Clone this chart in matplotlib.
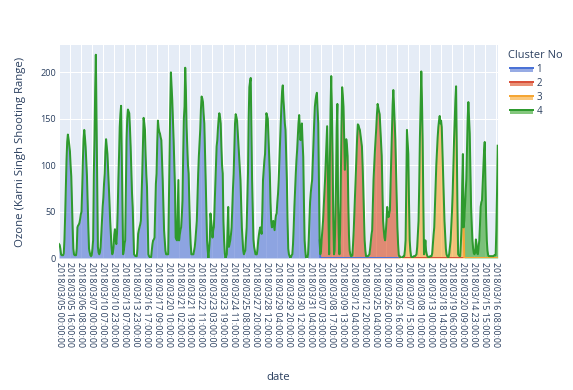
import matplotlib
matplotlib.use("Agg")
import matplotlib.pyplot as plt
from matplotlib.patches import Rectangle
from matplotlib.lines import Line2D
import numpy as np

W, H, DPI = 573, 390, 100

cluster_names = ["1", "2", "3", "4"]
line_colors = ["#4a72d6", "#d9503a", "#f5a634", "#2e9a2e"]
fill_colors = ["#5274d3", "#db491d", "#f9a427", "#33a327"]
fill_alpha = 0.6

tick_step = 16
tick_labels = [
    "2018/03/05 00:00:00", "2018/03/05 16:00:00", "2018/03/06 08:00:00", "2018/03/07 00:00:00",
    "2018/03/10 07:00:00", "2018/03/10 23:00:00", "2018/03/13 07:00:00", "2018/03/13 23:00:00",
    "2018/03/16 17:00:00", "2018/03/17 09:00:00", "2018/03/20 10:00:00", "2018/03/21 02:00:00",
    "2018/03/21 19:00:00", "2018/03/22 11:00:00", "2018/03/23 03:00:00", "2018/03/23 19:00:00",
    "2018/03/24 11:00:00", "2018/03/25 08:00:00", "2018/03/27 20:00:00", "2018/03/28 12:00:00",
    "2018/03/29 04:00:00", "2018/03/29 20:00:00", "2018/03/30 12:00:00", "2018/03/31 04:00:00",
    "2018/03/07 03:00:00", "2018/03/08 17:00:00", "2018/03/09 13:00:00", "2018/03/12 04:00:00",
    "2018/03/12 20:00:00", "2018/03/25 04:00:00", "2018/03/26 00:00:00", "2018/03/26 16:00:00",
    "2018/03/07 15:00:00", "2018/03/08 10:00:00", "2018/03/13 00:00:00", "2018/03/18 14:00:00",
    "2018/03/19 06:00:00", "2018/03/20 09:00:00", "2018/03/14 23:00:00", "2018/03/15 15:00:00",
    "2018/03/16 08:00:00",
]

ozone_c1 = [
    15, 14, 10, 4, 3, 3, 3, 5, 20, 45, 75, 105, 125, 133, 128, 122, 115, 100, 88, 60,
    33, 10, 4, 3, 3, 3, 10, 33, 35, 36, 38, 42, 47, 50, 75, 105, 128, 138, 130, 120,
    105, 88, 60, 33, 10, 6, 3, 2, 3, 10, 19, 90, 127, 180, 219, 150, 91, 12, 6, 4,
    6, 12, 25, 40, 55, 65, 80, 91, 115, 128, 120, 112, 95, 76, 60, 40, 26, 12, 4, 6,
    12, 25, 31, 20, 15, 26, 50, 84, 110, 141, 155, 164, 110, 55, 4, 8, 15, 19, 70, 127,
    150, 160, 158, 156, 140, 120, 95, 70, 55, 30, 4, 3, 2, 2, 2, 10, 26, 30, 33, 36,
    40, 65, 91, 120, 151, 145, 138, 110, 90, 76, 40, 4, 2, 1, 0, 1, 8, 15, 19, 20,
    22, 50, 80, 91, 125, 148, 140, 136, 134, 130, 127, 105, 84, 55, 30, 19, 8, 4, 4, 4,
    4, 60, 110, 160, 200, 185, 170, 150, 127, 100, 76, 22, 20, 19, 50, 84, 19, 25, 30, 33,
    45, 62, 110, 150, 163, 205, 180, 141, 120, 100, 91, 60, 33, 15, 4, 4, 4, 4, 8, 12,
    20, 30, 40, 65, 91, 110, 125, 138, 160, 174, 172, 168, 155, 145, 115, 84, 50, 19, 8, 0,
    10, 19, 48, 40, 33, 22, 30, 33, 55, 76, 100, 120, 127, 140, 150, 156, 152, 145, 120, 100,
    91, 40, 19, 5, 0, 2, 4, 30, 55, 12, 15, 19, 25, 33, 55, 75, 91, 120, 145, 155,
    152, 148, 135, 120, 110, 95, 84, 60, 33, 20, 8, 4, 6, 8, 20, 33, 60, 91, 150, 184,
    190, 194, 140, 84, 50, 20, 12, 8, 4, 4, 4, 10, 19, 25, 30, 33, 30, 26, 50,
    84, 95, 105, 112, 135, 156, 153, 150, 130, 110, 91, 60, 40, 33, 36, 40, 35, 30, 40, 46,
    48, 60, 69, 84, 105, 127, 145, 165, 180, 186, 170, 159, 145, 138, 110, 84, 40, 10, 4, 2,
    0, 1, 3, 4, 15, 33, 55, 73, 90, 105, 116, 130, 145, 154, 140, 127, 135, 145, 125, 109,
    60, 19, 8, 0, 0, 0, 4, 19, 40, 60, 70, 78, 84, 105, 125, 145, 163, 170, 175, 178,
    160, 145, 80, 19,
]

ozone_c2 = [
    4, 8, 20, 30, 40, 55, 70, 85, 105, 125, 142, 100, 40, 4, 100, 160, 196, 160, 110, 40,
    4, 8, 40, 80, 140, 166, 60, 25, 4, 30, 80, 140, 184, 175, 163, 130, 95, 110, 128, 122,
    110, 60, 25, 8, 4, 2, 2, 3, 15, 30, 50, 70, 91, 110, 130, 144, 143, 140, 138, 132,
    126, 120, 100, 75, 45, 19, 8, 2, 2, 2, 2, 3, 4, 10, 18, 25, 30, 55, 84, 100,
    115, 127, 140, 155, 166, 162, 158, 155, 140, 125, 110, 75, 40, 30, 22, 19, 28, 40, 55, 48,
    44, 48, 51, 80, 105, 135, 165, 181, 165, 145, 127, 95, 60, 33, 15, 3, 2,
]

ozone_c3 = [
    1, 0, 0, 1, 1, 2, 2, 8, 19, 80, 138, 125, 112, 60, 19, 8, 2, 1, 1, 1,
    2, 2, 2, 3, 4, 12, 25, 40, 80, 130, 163, 201, 170, 127, 60, 4, 10, 19, 8, 4,
    2, 1, 1, 1, 2, 2, 2, 5, 15, 25, 33, 55, 80, 100, 115, 130, 141, 148, 153, 145,
    148, 141, 115, 91, 65, 40, 25, 10, 4, 2, 1, 1, 5, 12, 19, 35, 50, 70, 100, 127,
    150, 170, 185, 120, 55, 4, 3, 2, 2, 15, 33, 80, 112, 33,
]

ozone_c4 = [
    40, 55, 70, 85, 120, 150, 168, 150, 134, 95, 55, 35, 19, 10, 5, 4, 6, 20, 15, 5,
    4, 12, 19, 35, 55, 60, 62, 80, 98, 115, 125, 84, 45, 19, 8, 3, 2, 2, 2, 2,
    2, 2, 2, 2, 3, 3, 3, 30, 70, 121,
]

series = [ozone_c1, ozone_c2, ozone_c3, ozone_c4]
n_total = sum(len(s) for s in series)
x = np.arange(n_total)
stack = np.zeros((len(series), n_total))
start = 0
for i, s in enumerate(series):
    stack[i, start:start + len(s)] = s
    start += len(s)
cum = np.cumsum(stack, axis=0)

plt.rcParams["font.family"] = ["Open Sans", "DejaVu Sans"]
txt = "#2a3f5f"

fig = plt.figure(figsize=(W / DPI, H / DPI), dpi=DPI)
L, R, T, B = 59.0, 497.7, 45.0, 258.0
ax = fig.add_axes([L / W, 1 - B / H, (R - L) / W, (B - T) / H])
ax.set_facecolor("#E5ECF6")
for sp in ax.spines.values():
    sp.set_visible(False)

base = np.zeros(n_total)
for i in range(len(series)):
    ax.fill_between(x, base, cum[i], color=fill_colors[i], alpha=fill_alpha,
                    linewidth=0, zorder=2)
    base = cum[i]

top = cum[-1]
for i in range(len(series)):
    y = cum[i].copy()
    if i < len(series) - 1:
        hidden = np.isclose(y, top)
        keep = ~hidden
        keep[1:] |= ~hidden[:-1]
        keep[:-1] |= ~hidden[1:]
        y[~keep] = np.nan
    ax.plot(x, y, color=line_colors[i], lw=1.44, zorder=3 + i,
            solid_joinstyle="round")

ax.set_xlim(0, n_total - 1)
ax.set_ylim(0, 229.5)
ticks = np.arange(0, n_total, tick_step)[:len(tick_labels)]
ax.set_xticks(ticks)
ax.set_xticklabels(tick_labels, rotation=270, fontsize=6.4, color=txt,
                   ha="center", va="top")
ax.set_yticks([0, 50, 100, 150, 200])
ax.set_yticklabels(["0", "50", "100", "150", "200"], fontsize=6.6, color=txt)
ax.tick_params(axis="both", length=0)
ax.tick_params(axis="x", pad=3)
ax.tick_params(axis="y", pad=2)
ax.grid(True, color="white", linewidth=0.75, zorder=1)
ax.set_axisbelow(True)

fig.text(20.7 / W, 1 - 151.5 / H, "Ozone (Karni Singh Shooting Range)", rotation=90,
         ha="center", va="center", fontsize=8.2, color=txt)
fig.text(278.3 / W, 1 - 377 / H, "date", ha="center", va="center", fontsize=8.2, color=txt)

# legend
fig.text(508.3 / W, 1 - 55 / H, "Cluster No", ha="left", va="center", fontsize=7.9, color=txt)
ys = [69.3, 83.3, 97.7, 111.7]
for i, name in enumerate(cluster_names):
    yc = ys[i]
    fig.patches.append(Rectangle((510 / W, 1 - (yc + 2.5) / H), 23 / W, 5 / H,
                                 transform=fig.transFigure, facecolor=fill_colors[i],
                                 alpha=fill_alpha, edgecolor="none"))
    fig.lines.append(Line2D([510 / W, 533 / W], [1 - (yc - 1.5) / H, 1 - (yc - 1.5) / H],
                            transform=fig.transFigure, color=line_colors[i], lw=1.44))
    fig.text(536.5 / W, 1 - yc / H, name, ha="left", va="center", fontsize=7.0, color=txt)

fig.savefig("out.png", dpi=DPI)
